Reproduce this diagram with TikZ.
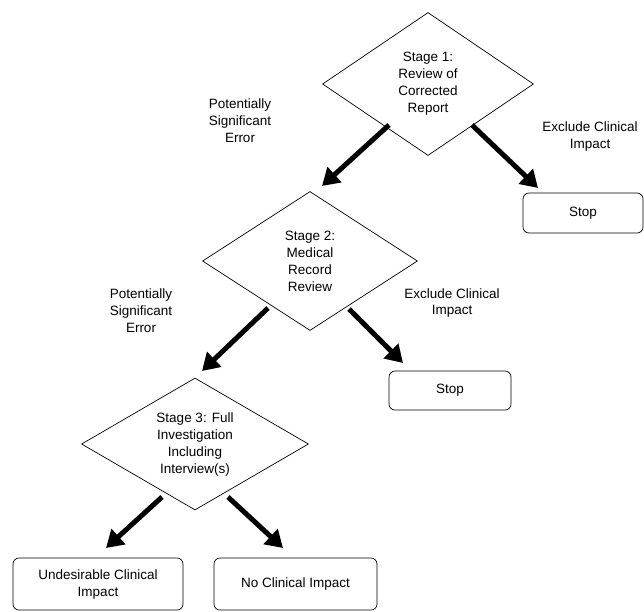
\documentclass[tikz,border=0pt]{standalone}
\usepackage{fontspec}
\setmainfont{Liberation Sans}
\usetikzlibrary{shapes.geometric,arrows.meta}
\begin{document}
\begin{tikzpicture}[x=1pt,y=-1pt,
  every node/.style={font=\fontsize{13.5}{17}\selectfont, align=center},
  decision/.style={diamond, draw, line width=0.7pt, inner sep=0pt, aspect=1.5},
  endbox/.style={draw, rounded corners=6pt, line width=0.7pt, inner sep=0pt},
  lbl/.style={inner sep=0pt},
  flow/.style={line width=5pt, -{Triangle[length=17pt,width=20pt]}}]
\useasboundingbox (0,0) rectangle (644,611);
% decisions
\node[decision, minimum width=211pt, minimum height=143pt] (d1) at (428,84) {Stage 1:\\Review of\\Corrected\\Report};
\node[decision, minimum width=215pt, minimum height=139pt] (d2) at (310,261) {Stage 2:\\Medical\\Record\\Review};
\node[decision, minimum width=227pt, minimum height=132pt] (d3) at (195,444) {Stage 3: Full\\Investigation\\Including\\Interview(s)};
% end boxes
\node[endbox, minimum width=120pt, minimum height=40pt] (s1) at (583,213) {Stop};
\node[endbox, minimum width=122pt, minimum height=39pt] (s2) at (450,390.5) {Stop};
\node[endbox, minimum width=170pt, minimum height=52pt] (u) at (98,584) {Undesirable Clinical\\Impact};
\node[endbox, minimum width=163pt, minimum height=52pt] (n) at (295.5,584) {No Clinical Impact};
% labels
\node[lbl] (l1) at (240,121) {Potentially\\Significant\\Error};
\node[lbl] (l2) at (590,137) {Exclude Clinical\\Impact};
\node[lbl] (l3) at (141,311) {Potentially\\Significant\\Error};
\node[lbl] (l4) at (452,303) {Exclude Clinical\\Impact};
% arrow endpoints
\coordinate (a1s) at (389,125); \coordinate (a1e) at (322,186);
\coordinate (b1s) at (472,125); \coordinate (b1e) at (538,188);
\coordinate (a2s) at (268,308); \coordinate (a2e) at (202,371);
\coordinate (b2s) at (349,309); \coordinate (b2e) at (403,363);
\coordinate (a3s) at (162,497); \coordinate (a3e) at (106,548);
\coordinate (b3s) at (228,497); \coordinate (b3e) at (283,548);
\draw[flow] (a1s) -- (a1e);
\draw[flow] (b1s) -- (b1e);
\draw[flow] (a2s) -- (a2e);
\draw[flow] (b2s) -- (b2e);
\draw[flow] (a3s) -- (a3e);
\draw[flow] (b3s) -- (b3e);
\end{tikzpicture}
\end{document}
